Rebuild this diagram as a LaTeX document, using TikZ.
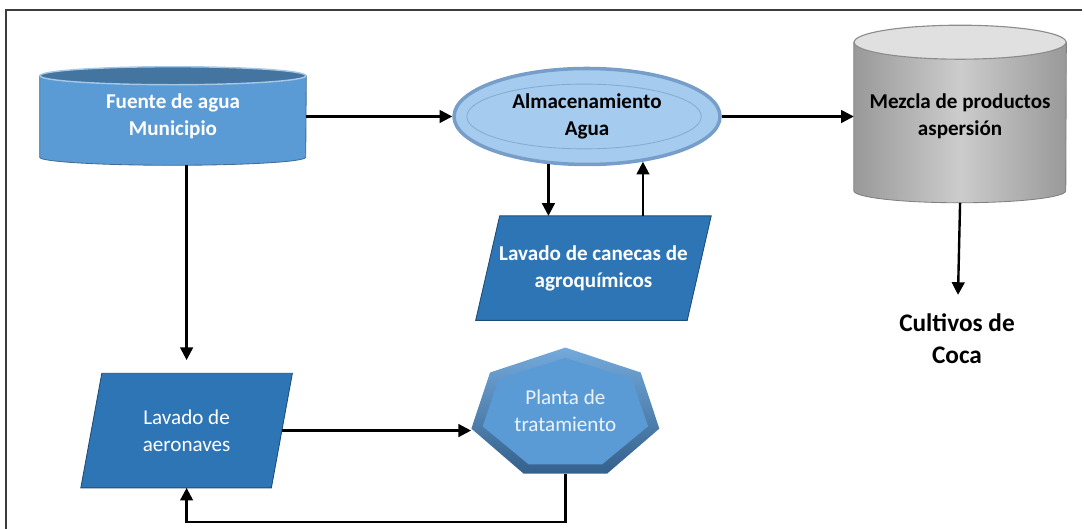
\documentclass[tikz,border=0pt]{standalone}
\usepackage{fontspec}
\setmainfont{Carlito}
\usetikzlibrary{positioning,shapes.geometric,arrows.meta,calc}
\pgfdeclarelayer{back}
\pgfsetlayers{back,main}
\definecolor{midblue}{RGB}{91,155,213}
\definecolor{darkblue}{RGB}{46,117,182}
\definecolor{rimblue}{RGB}{52,96,140}
\definecolor{lightblue}{RGB}{165,203,238}
\definecolor{paleblue}{RGB}{118,158,200}
\definecolor{framegray}{RGB}{60,60,60}
\tikzset{
    box/.style={align=center, inner sep=0pt, font=\fontsize{15}{19}\selectfont},
    boldbox/.style={box, font=\fontsize{15}{19}\selectfont\bfseries},
    flow/.style={->, line width=1.7pt}
}

\begin{document}
\begin{tikzpicture}[>={Triangle[length=9pt,width=9pt]}, every node/.style={align=center}]
    \useasboundingbox (0,0) rectangle (27.1,13.225);
    % frame
    \draw[framegray, line width=1.5pt] (0.15,0) |- (27.05,12.975);

    % top row
    \node (fuente) [boldbox, text=white, minimum width=6.65cm, minimum height=2.025cm] at (4.325,10.3125) {Fuente de agua\\Municipio};
    \node (almac) [boldbox, ellipse, draw=paleblue, line width=2.5pt, fill=lightblue, minimum width=6.65cm, minimum height=2.4cm, right=3.65cm of fuente] {Almacenamiento\\Agua};
    \draw[paleblue!70!lightblue, line width=0.6pt] ([xshift=-0.075cm]almac.center) ellipse [x radius=2.93cm, y radius=0.81cm];
    \node (mezcla) [boldbox, minimum width=5.3cm, minimum height=3.7cm, right=3.3cm of almac] {Mezcla de productos\\aspersión};
    \node (cultivos) [font=\fontsize{18}{23}\selectfont\bfseries] at (23.925,4.75) {Cultivos de\\Coca};

    % middle and bottom row
    \node (canecas) [boldbox, text=white, minimum width=5.275cm, minimum height=2.6cm, below=1.24cm of almac, xshift=0.16cm] {Lavado de canecas de\\agroquímicos};
    \node (lavado) [box, text=white, minimum width=4.75cm, minimum height=2.85cm, below=5.4cm of fuente, xshift=0.34cm] {Lavado de\\aeronaves};
    \node (planta) [box, text=white!88!midblue, minimum width=4.7cm, minimum height=3.15cm, right=4.73cm of lavado, yshift=0.5cm] {Planta de\\tratamiento};

    % shapes behind the texts
    \begin{pgfonlayer}{back}
        \filldraw[fill=midblue, draw=midblue!70!black, line width=0.6pt] (fuente.north west) -- (fuente.south west) arc[start angle=180, end angle=360, x radius=3.325cm, y radius=0.2cm] -- (fuente.north east) -- cycle;
        \filldraw[fill=midblue!75!black, draw=midblue!55!white, line width=1pt] (fuente.north) ellipse [x radius=3.325cm, y radius=0.225cm];
        \shadedraw[left color=black!40, right color=black!40, middle color=black!20, draw=black!50, line width=0.6pt] (mezcla.north west) -- (mezcla.south west) arc[start angle=180, end angle=360, x radius=2.65cm, y radius=0.3cm] -- (mezcla.north east) -- cycle;
        \filldraw[fill=black!12, draw=black!45, line width=0.8pt] (mezcla.north) ellipse [x radius=2.65cm, y radius=0.425cm];
        \filldraw[fill=darkblue, draw=darkblue!65!black, line width=0.6pt] ([xshift=0.3cm]canecas.north west) -- ([xshift=0.3cm]canecas.north east) -- ([xshift=-0.3cm]canecas.south east) -- ([xshift=-0.3cm]canecas.south west) -- cycle;
        \filldraw[fill=darkblue, draw=darkblue!65!black, line width=0.6pt] ([xshift=0.2625cm]lavado.north west) -- ([xshift=0.2625cm]lavado.north east) -- ([xshift=-0.2625cm]lavado.south east) -- ([xshift=-0.2625cm]lavado.south west) -- cycle;
        \begin{scope}[shift={([yshift=-0.0825cm]planta.center)}]
            \shade[top color=midblue!85!white, bottom color=rimblue] (90:2.41cm and 1.657cm) \foreach \a in {1,...,6} {-- ({90+\a*360/7}:2.41cm and 1.657cm)} -- cycle;
            \fill[midblue] (90:2.12cm and 1.4cm) \foreach \a in {1,...,6} {-- ({90+\a*360/7}:2.12cm and 1.4cm)} -- cycle;
        \end{scope}
    \end{pgfonlayer}

    % connectors
    \draw[flow] (fuente) -- (almac);
    \draw[flow] (almac) -- (mezcla);
    \draw[flow, shorten >=0.35cm] ([yshift=-0.3cm]mezcla.south) -- (cultivos);
    \draw[flow] (almac.231) -- (almac.231 |- canecas.north);
    \draw[flow] (canecas.north -| almac.321) -- (almac.321);
    \draw[flow, shorten >=0.33cm] ($(fuente.south -| lavado.north)+(0,-0.2)$) -- (lavado.north);
    \draw[flow] (lavado.east) -- (lavado.east -| planta.west);
    \draw[flow] (planta.south) -- ++(0,-1.2) -| (lavado.south);
\end{tikzpicture}
\end{document}
